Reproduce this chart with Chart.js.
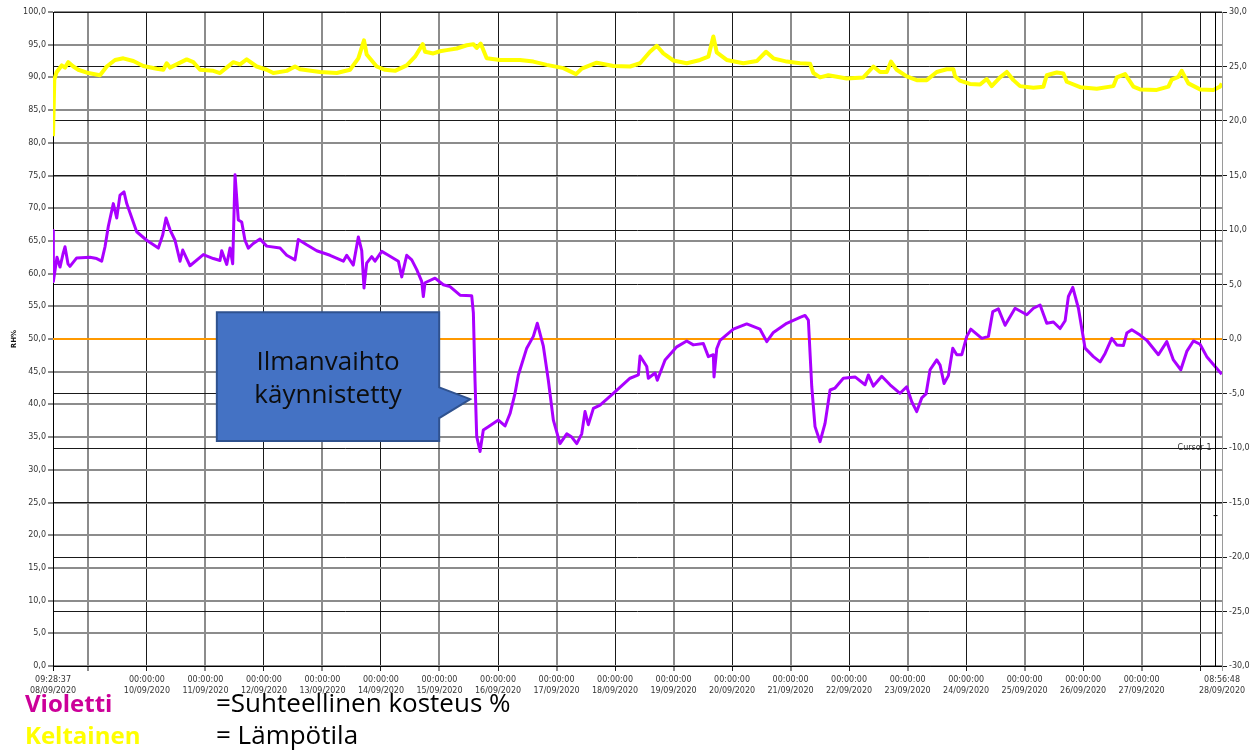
<!DOCTYPE html>
<html>
<head>
<meta charset="utf-8">
<script src="https://cdn.jsdelivr.net/npm/chart.js@4/dist/chart.umd.min.js"></script>
<style>
  body { margin: 0; background: #fff; }
  #wrap { position: relative; width: 1253px; height: 750px; }
  .leg { position: absolute; font-family: 'Open Sans', sans-serif; font-size: 26px; line-height: 26px; white-space: nowrap; }
  .leg.b { font-weight: 700; font-size: 24px; }
</style>
</head>
<body>
<div id="wrap">
  <canvas id="chart" width="1253" height="750"></canvas>
  <div class="leg b" style="left:25px;top:690px;color:#cc0099">Violetti</div>
  <div class="leg b" style="left:25px;top:722px;color:#ffff00">Keltainen</div>
  <div class="leg" style="left:216px;top:689px;color:#000">=Suhteellinen kosteus %</div>
  <div class="leg" style="left:216px;top:721px;color:#000">= Lämpötila</div>
</div>
<script>
/* ── data (time = days since 08/09/2020 09:28:37) ── */
const END_DAY = 19.978;

const xTicks = [0, 0.605, 1.605, 2.605, 3.605, 4.605, 5.605, 6.605, 7.605, 8.605, 9.605,
  10.605, 11.605, 12.605, 13.605, 14.605, 15.605, 16.605, 17.605, 18.605, 19.605, END_DAY];
const xTickTime = ['09:28:37', '', '00:00:00', '00:00:00', '00:00:00', '00:00:00', '00:00:00',
  '00:00:00', '00:00:00', '00:00:00', '00:00:00', '00:00:00', '00:00:00', '00:00:00', '00:00:00',
  '00:00:00', '00:00:00', '00:00:00', '00:00:00', '00:00:00', '', '08:56:48'];
const xTickDate = ['08/09/2020', '', '10/09/2020', '11/09/2020', '12/09/2020', '13/09/2020',
  '14/09/2020', '15/09/2020', '16/09/2020', '17/09/2020', '18/09/2020', '19/09/2020',
  '20/09/2020', '21/09/2020', '22/09/2020', '23/09/2020', '24/09/2020', '25/09/2020',
  '26/09/2020', '27/09/2020', '', '28/09/2020'];

// Violetti: suhteellinen kosteus RH%
const rhTime = [0, 0.004, 0.008, 0.068, 0.12, 0.171, 0.205, 0.256, 0.29, 0.405, 0.632, 0.747,
  0.832, 0.889, 0.945, 1.031, 1.089, 1.145, 1.213, 1.26, 1.43, 1.601, 1.8, 1.875, 1.931, 2.0,
  2.085, 2.171, 2.217, 2.341, 2.569, 2.74, 2.854, 2.883, 2.969, 3.025, 3.071, 3.111, 3.167,
  3.225, 3.281, 3.338, 3.423, 3.538, 3.652, 3.88, 3.994, 4.136, 4.192, 4.336, 4.507, 4.734,
  4.962, 5.02, 5.132, 5.218, 5.276, 5.315, 5.361, 5.447, 5.503, 5.618, 5.731, 5.902, 5.96,
  6.045, 6.131, 6.216, 6.301, 6.329, 6.358, 6.529, 6.671, 6.785, 6.956, 7.156, 7.184, 7.212,
  7.241, 7.298, 7.354, 7.44, 7.611, 7.725, 7.811, 7.896, 7.953, 8.096, 8.209, 8.277, 8.38,
  8.465, 8.551, 8.665, 8.78, 8.865, 8.951, 9.036, 9.092, 9.149, 9.235, 9.349, 9.576, 9.862,
  10.004, 10.033, 10.147, 10.174, 10.289, 10.328, 10.46, 10.66, 10.83, 10.943, 11.114, 11.2,
  11.285, 11.297, 11.343, 11.4, 11.627, 11.856, 12.083, 12.198, 12.311, 12.539, 12.767, 12.852,
  12.909, 12.967, 13.023, 13.109, 13.194, 13.28, 13.365, 13.507, 13.707, 13.878, 13.934, 14.02,
  14.163, 14.305, 14.476, 14.59, 14.676, 14.761, 14.847, 14.92, 14.989, 15.103, 15.16, 15.228,
  15.302, 15.377, 15.445, 15.531, 15.616, 15.685, 15.873, 15.986, 16.061, 16.156, 16.271,
  16.442, 16.642, 16.755, 16.869, 16.983, 17.097, 17.211, 17.297, 17.353, 17.428, 17.524,
  17.638, 17.78, 17.895, 17.98, 18.094, 18.18, 18.293, 18.351, 18.436, 18.578, 18.692, 18.891,
  19.034, 19.147, 19.274, 19.376, 19.489, 19.603, 19.718, 19.86, 19.974];
const rhValue = [59.5, 66.6, 58.8, 62.5, 61.0, 63.0, 64.1, 61.5, 61.1, 62.4, 62.5, 62.3,
  61.9, 64.1, 67.2, 70.7, 68.5, 72.0, 72.5, 70.7, 66.4, 65.1, 63.9, 65.9, 68.5, 66.7,
  65.1, 61.9, 63.6, 61.2, 62.9, 62.3, 62.0, 63.5, 61.4, 63.9, 61.5, 75.1, 68.2,
  67.9, 65.1, 63.9, 64.6, 65.3, 64.2, 63.9, 62.8, 62.1, 65.2, 64.4, 63.5, 62.8,
  61.9, 62.8, 61.3, 65.6, 63.5, 57.8, 61.6, 62.6, 61.9, 63.4, 62.8, 61.9, 59.5,
  62.8, 62.1, 60.6, 58.8, 56.5, 58.6, 59.3, 58.3, 58.0, 56.7, 56.6, 54.0, 43.7,
  35.1, 32.8, 36.1, 36.6, 37.6, 36.7, 38.6, 41.7, 44.5, 48.6, 50.4, 52.4, 48.9,
  43.7, 37.6, 34.0, 35.5, 35.0, 34.0, 35.5, 38.9, 36.9, 39.4, 39.9, 41.7, 44.0,
  44.5, 47.4, 45.8, 44.0, 44.8, 43.7, 46.8, 48.8, 49.7, 49.1, 49.3, 47.3,
  47.6, 44.2, 48.5, 49.8, 51.5, 52.3, 51.5, 49.6, 51.0, 52.4, 53.3, 53.6,
  52.9, 42.7, 36.6, 34.3, 37.1, 42.2, 42.5, 44.0, 44.2, 43.0, 44.5, 42.8,
  44.3, 43.0, 41.7, 42.7, 40.4, 38.9, 41.0, 41.6, 45.3, 46.8, 46.0, 43.2,
  44.4, 48.6, 47.6, 47.6, 50.4, 51.5, 50.1, 50.4, 54.2, 54.6, 52.1,
  54.7, 53.7, 54.7, 55.2, 52.4, 52.6, 51.6, 52.8, 56.5, 57.9, 54.7,
  48.6, 47.3, 46.5, 47.8, 50.1, 49.1, 49.0, 50.9, 51.4, 50.6, 49.8, 47.6,
  49.6, 46.8, 45.3, 48.1, 49.7, 49.2, 47.3, 45.8, 44.6];

// Keltainen: lämpötila °C (oikea akseli)
const tempTime = [0, 0.022, 0.063, 0.149, 0.205, 0.262, 0.347, 0.432, 0.604, 0.803, 0.918,
  1.06, 1.202, 1.373, 1.543, 1.772, 1.885, 1.943, 2.0, 2.285, 2.398, 2.512, 2.74, 2.854,
  3.082, 3.196, 3.31, 3.481, 3.652, 3.765, 3.994, 4.136, 4.221, 4.563, 4.849, 5.076, 5.218,
  5.315, 5.361, 5.532, 5.674, 5.845, 6.045, 6.187, 6.319, 6.358, 6.5, 6.614, 6.729, 6.9,
  7.071, 7.184, 7.241, 7.309, 7.412, 7.64, 7.981, 8.209, 8.438, 8.722, 8.939, 9.036, 9.292,
  9.576, 9.862, 10.033, 10.203, 10.318, 10.43, 10.602, 10.83, 11.058, 11.2, 11.285, 11.343,
  11.514, 11.798, 12.027, 12.186, 12.311, 12.539, 12.767, 12.938, 12.995, 13.109, 13.251,
  13.565, 13.849, 14.02, 14.134, 14.249, 14.322, 14.419, 14.59, 14.761, 14.932, 15.103,
  15.274, 15.387, 15.416, 15.501, 15.672, 15.843, 15.957, 16.042, 16.185, 16.3, 16.413,
  16.527, 16.755, 16.926, 16.983, 17.154, 17.268, 17.325, 17.553, 17.838, 18.122, 18.18,
  18.322, 18.464, 18.578, 18.863, 19.062, 19.119, 19.232, 19.29, 19.403, 19.603, 19.831,
  19.945, 19.974];
const tempValue = [18.6, 23.8, 24.5, 25.1, 24.9, 25.4, 25.0, 24.7, 24.4, 24.2, 25.0,
  25.6, 25.75, 25.5, 25.05, 24.8, 24.7, 25.3, 24.9, 25.65, 25.4, 24.7, 24.6, 24.4,
  25.4, 25.2, 25.65, 25.0, 24.7, 24.4, 24.6, 25.0, 24.75, 24.5, 24.4, 24.7, 25.75,
  27.4, 26.1, 25.0, 24.7, 24.6, 25.1, 25.9, 27.05, 26.35, 26.2, 26.4, 26.5, 26.65,
  26.95, 27.05, 26.7, 27.1, 25.75, 25.6, 25.6, 25.45, 25.15, 24.85, 24.3, 24.8, 25.35,
  25.05, 25.0, 25.3, 26.35, 26.9, 26.2, 25.55, 25.3, 25.6, 25.9, 27.75, 26.3,
  25.6, 25.3, 25.5, 26.35, 25.75, 25.45, 25.3, 25.25, 24.4, 24.0, 24.2,
  23.9, 24.0, 25.0, 24.5, 24.5, 25.45, 24.7, 24.1, 23.75, 23.75, 24.5,
  24.75, 24.75, 24.1, 23.7, 23.4, 23.35, 23.85, 23.2, 24.0, 24.5, 23.75,
  23.2, 23.05, 23.15, 24.2, 24.45, 24.35, 23.6, 23.1, 22.95, 23.2, 24.0,
  24.3, 23.15, 22.9, 22.85, 23.15, 23.8, 24.05, 24.6, 23.45, 22.9, 22.85,
  23.15, 23.45];

const refLevel = 50;       // oranssi viiva RH 50 %
const cursorDay = 19.86;   // Cursor 1

const pts = (t, v) => t.map((d, i) => ({ x: d, y: v[i] }));
const fmt = v => v.toFixed(1).replace('.', ',');
const axisFont = { family: "'DejaVu Sans', sans-serif", size: 8 };

/* ── callout + cursor ── */
const extras = {
  id: 'extras',
  afterDatasetsDraw(chart) {
    const { ctx, chartArea, scales: { x, y, y2 } } = chart;
    ctx.save();
    // cursor line
    const cx = Math.round(x.getPixelForValue(cursorDay)) + 0.5;
    ctx.strokeStyle = '#000';
    ctx.lineWidth = 1;
    ctx.beginPath();
    ctx.moveTo(cx, chartArea.top);
    ctx.lineTo(cx, chartArea.bottom);
    const my = y.getPixelForValue(23);
    ctx.moveTo(cx - 2, my);
    ctx.lineTo(cx + 2, my);
    ctx.stroke();
    ctx.font = "8px 'DejaVu Sans', sans-serif";
    ctx.fillStyle = '#333';
    ctx.textAlign = 'right';
    ctx.textBaseline = 'middle';
    ctx.fillText('Cursor 1', cx - 4, y2.getPixelForValue(-10));

    // callout
    const l = x.getPixelForValue(2.80), r = x.getPixelForValue(6.60);
    const t = y.getPixelForValue(54.1), b = y.getPixelForValue(34.4);
    ctx.beginPath();
    ctx.moveTo(l, t);
    ctx.lineTo(r, t);
    ctx.lineTo(r, y.getPixelForValue(42.6));
    ctx.lineTo(x.getPixelForValue(7.13), y.getPixelForValue(40.8));
    ctx.lineTo(r, y.getPixelForValue(37.9));
    ctx.lineTo(r, b);
    ctx.lineTo(l, b);
    ctx.closePath();
    ctx.fillStyle = '#4472c4';
    ctx.fill();
    ctx.strokeStyle = '#2f528f';
    ctx.lineWidth = 2;
    ctx.stroke();
    ctx.fillStyle = '#0d0d0d';
    ctx.font = "26px 'Open Sans', sans-serif";
    ctx.textAlign = 'center';
    ctx.textBaseline = 'alphabetic';
    const mid = (l + r) / 2;
    ctx.fillText('Ilmanvaihto', mid, t + 58);
    ctx.fillText('käynnistetty', mid, t + 91);
    ctx.restore();
  }
};

new Chart(document.getElementById('chart'), {
  type: 'line',
  data: {
    datasets: [
      {
        label: 'RH%',
        data: pts(rhTime, rhValue),
        yAxisID: 'y',
        borderColor: '#aa00ff',
        borderWidth: 3,
      },
      {
        label: 'Lämpötila',
        data: pts(tempTime, tempValue),
        yAxisID: 'y2',
        borderColor: '#ffff00',
        borderWidth: 4,
      },
      {
        label: '50 %',
        data: [{ x: 0, y: refLevel }, { x: END_DAY, y: refLevel }],
        yAxisID: 'y',
        borderColor: '#ff9900',
        borderWidth: 2,
      }
    ]
  },
  options: {
    responsive: false,
    animation: false,
    parsing: false,
    elements: { point: { radius: 0 }, line: { tension: 0, borderJoinStyle: 'round' } },
    layout: { padding: { top: 12, left: 0, right: 0, bottom: 0 } },
    plugins: { legend: { display: false }, tooltip: { enabled: false } },
    scales: {
      x: {
        type: 'linear',
        min: 0, max: END_DAY,
        afterBuildTicks: s => { s.ticks = xTicks.map(v => ({ value: v })); },
        afterFit: s => { s.height = 84; },
        ticks: {
          autoSkip: false, maxRotation: 0, padding: 4,
          color: '#333', font: { ...axisFont, lineHeight: 1.3 },
          callback: (v, i) => xTickTime[i] ? [xTickTime[i], xTickDate[i]] : ''
        },
        grid: {
          tickLength: 5,
          color: c => {
            if (c.index === xTicks.length - 1) return '#9a9a9a';
            if (c.index === 0) return '#000';
            return (8 + c.index) % 2 ? '#8c8c8c' : '#1a1a1a';
          },
          lineWidth: c => ((8 + c.index) % 2 && c.index < xTicks.length - 1 ? 2 : 1)
        },
        border: { color: '#000' }
      },
      y: {
        position: 'left',
        min: 0, max: 100,
        afterFit: s => { s.width = 53; },
        ticks: { stepSize: 5, padding: 2, color: '#333', font: axisFont, callback: fmt },
        title: { display: true, text: 'RH%', color: '#111', padding: { top: 10, bottom: 0 },
          font: { family: "'DejaVu Sans', sans-serif", size: 7, weight: 'bold' } },
        grid: { color: '#8c8c8c', lineWidth: 2, tickLength: 5 },
        border: { color: '#000' }
      },
      y2: {
        position: 'right',
        min: -30, max: 30,
        afterFit: s => { s.width = 31; },
        ticks: { stepSize: 5, padding: 2, color: '#333', font: axisFont, callback: fmt },
        grid: { color: '#1a1a1a', lineWidth: 1, tickLength: 5 },
        border: { color: '#9a9a9a' }
      }
    }
  },
  plugins: [extras]
});
</script>
</body>
</html>
